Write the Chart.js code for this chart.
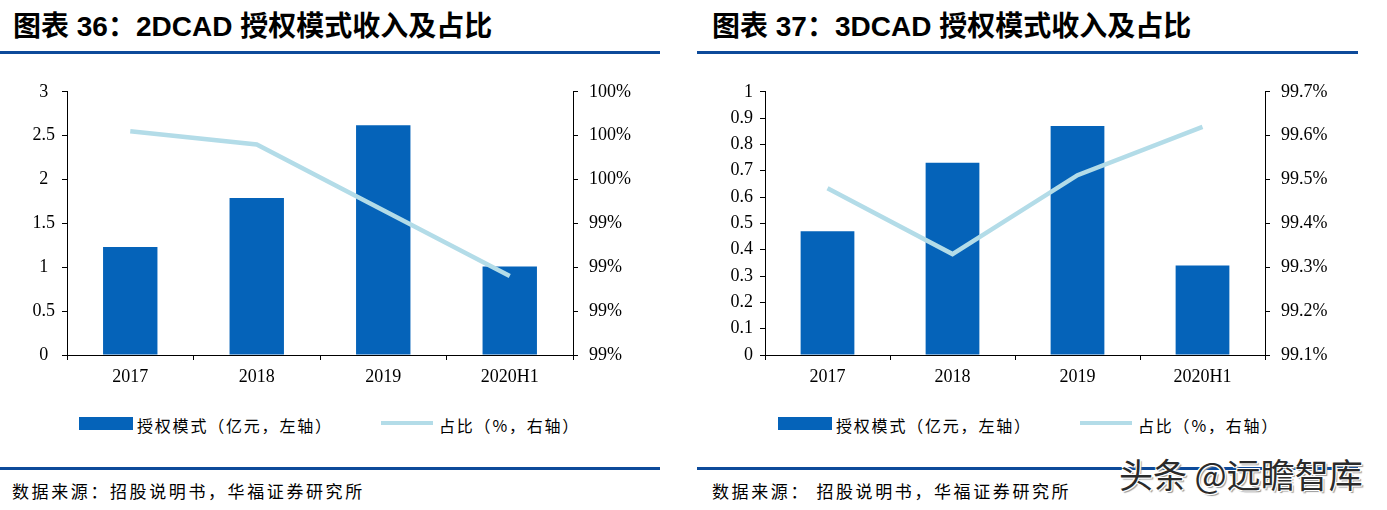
<!DOCTYPE html>
<html>
<head>
<meta charset="utf-8">
<script src="https://cdn.jsdelivr.net/npm/chart.js@4.4.0/dist/chart.umd.min.js"></script>
<style>
  body { margin: 0; width: 1387px; height: 510px; background: #fff; position: relative; overflow: hidden; }
  .title { position: absolute; top: 4px; font-family: "Liberation Sans", "Noto Sans CJK SC", sans-serif; font-weight: bold; font-size: 28px; color: #000; white-space: nowrap; }
  .rule { position: absolute; height: 3px; background: #0d4a9a; }
  .box { position: absolute; }
  .legend { position: absolute; top: 413px; font-family: "Noto Sans CJK SC", sans-serif; font-size: 16px; letter-spacing: 1.8px; color: #000; white-space: nowrap; }
  .sw { position: absolute; }
  .src { position: absolute; top: 478px; font-family: "Noto Sans CJK SC", sans-serif; font-size: 17px; letter-spacing: 2.6px; color: #000; white-space: nowrap; }
  .wm { position: absolute; left: 1119px; top: 449px; font-family: "Noto Sans CJK SC", sans-serif; font-size: 34px; color: #2a2a2a; white-space: nowrap;
        text-shadow: -1px -1px 0 #fff, 1px -1px 0 #fff, -1px 1px 0 #fff, 1px 1px 0 #fff, 2px 2px 1px #999; }
</style>
</head>
<body>
<div class="title" style="left:13px">图表 36：2DCAD 授权模式收入及占比</div>
<div class="title" style="left:712px">图表 37：3DCAD 授权模式收入及占比</div>
<div class="rule" style="left:0; width:660px; top:51px"></div>
<div class="rule" style="left:697px; width:661px; top:51px"></div>

<div class="box" style="left:0; top:70px; width:660px; height:320px"><canvas id="c1"></canvas></div>
<div class="box" style="left:695px; top:70px; width:692px; height:320px"><canvas id="c2"></canvas></div>

<div class="sw" style="left:79px; top:417px; width:54px; height:13px; background:#0563b9"></div>
<div class="legend" style="left:137px">授权模式（亿元，左轴）</div>
<div class="sw" style="left:381px; top:421px; width:52px; height:4px; background:#b3dce8"></div>
<div class="legend" style="left:439px">占比（%，右轴）</div>

<div class="sw" style="left:778px; top:417px; width:54px; height:13px; background:#0563b9"></div>
<div class="legend" style="left:836px">授权模式（亿元，左轴）</div>
<div class="sw" style="left:1080px; top:421px; width:52px; height:4px; background:#b3dce8"></div>
<div class="legend" style="left:1138px">占比（%，右轴）</div>

<div class="rule" style="left:0; width:660px; top:467px"></div>
<div class="rule" style="left:697px; width:661px; top:467px"></div>
<div class="src" style="left:12px">数据来源：招股说明书，华福证券研究所</div>
<div class="src" style="left:712px">数据来源：&nbsp;招股说明书，华福证券研究所</div>
<div class="wm">头条 @远瞻智库</div>

<script>
var years = ['2017', '2018', '2019', '2020H1'];

// 2DCAD
var rev2d = [1.23, 1.79, 2.62, 1.01];
var share2d = [99.61, 99.58, 99.43, 99.28];
var left2dTicks = ['0', '0.5', '1', '1.5', '2', '2.5', '3'];
var right2dTicks = ['99%', '99%', '99%', '99%', '100%', '100%', '100%'];

// 3DCAD
var rev3d = [0.47, 0.73, 0.87, 0.34];
var share3d = [99.48, 99.33, 99.51, 99.62];
var left3dTicks = ['0', '0.1', '0.2', '0.3', '0.4', '0.5', '0.6', '0.7', '0.8', '0.9', '1'];
var right3dTicks = ['99.1%', '99.2%', '99.3%', '99.4%', '99.5%', '99.6%', '99.7%'];

var barColor = '#0563b9';
var lineColor = '#b3dce8';
var tickFont = { family: 'Liberation Serif', size: 18 };

function makeChart(id, rev, share, yCfg, y1Cfg, leftW, rightW, leftAlign) {
  return new Chart(document.getElementById(id), {
    type: 'bar',
    data: {
      labels: years,
      datasets: [
        { type: 'line', data: share, yAxisID: 'y1', borderColor: lineColor, borderWidth: 4.5,
          pointRadius: 0, tension: 0, order: 0 },
        { type: 'bar', data: rev, yAxisID: 'y', backgroundColor: barColor,
          barPercentage: 0.43, categoryPercentage: 1, order: 1 }
      ]
    },
    options: {
      responsive: true,
      maintainAspectRatio: false,
      animation: false,
      layout: { padding: { top: 0, bottom: 0, left: 0, right: 0 } },
      plugins: { legend: { display: false }, tooltip: { enabled: false } },
      scales: {
        x: {
          grid: { display: true, drawOnChartArea: false, tickLength: 5, color: '#000', offset: true },
          border: { color: '#000', width: 1 },
          ticks: { font: tickFont, color: '#000', padding: 6 },
          afterFit: function(s) { s.height = 35; }
        },
        y: {
          position: 'left',
          min: yCfg.min, max: yCfg.max,
          grid: { display: true, drawOnChartArea: false, tickLength: 5, color: '#000' },
          border: { color: '#000', width: 1 },
          ticks: { stepSize: yCfg.step, autoSkip: false, font: tickFont, color: '#000', padding: 7,
                   crossAlign: leftAlign,
                   callback: function(v, i) { return yCfg.labels[i]; } },
          afterFit: function(s) { s.width = leftW; }
        },
        y1: {
          position: 'right',
          min: y1Cfg.min, max: y1Cfg.max,
          grid: { display: true, drawOnChartArea: false, tickLength: 5, color: '#000' },
          border: { color: '#000', width: 1 },
          ticks: { stepSize: 0.1, autoSkip: false, font: tickFont, color: '#000', padding: 11,
                   callback: function(v, i) { return y1Cfg.labels[i]; } },
          afterFit: function(s) { s.width = rightW; }
        }
      }
    }
  });
}

makeChart('c1', rev2d, share2d,
  { min: 0, max: 3, step: 0.5, labels: left2dTicks },
  { min: 99.1, max: 99.7, labels: right2dTicks },
  67, 87, 'center');

makeChart('c2', rev3d, share3d,
  { min: 0, max: 1, step: 0.1, labels: left3dTicks },
  { min: 99.1, max: 99.7, labels: right3dTicks },
  70, 122, 'near');
</script>
</body>
</html>
